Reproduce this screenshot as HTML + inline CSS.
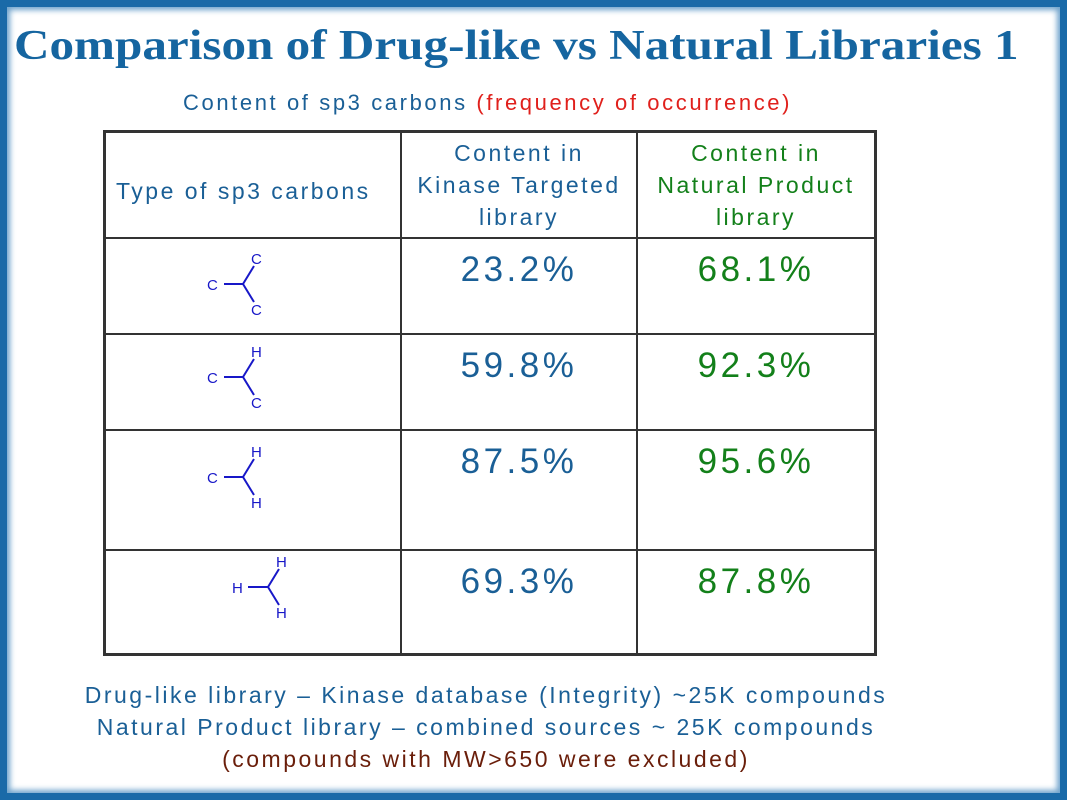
<!DOCTYPE html>
<html><head><meta charset="utf-8"><style>
html,body{margin:0;padding:0}
body{width:1067px;height:800px;position:relative;background:#fff;overflow:hidden;font-family:"Liberation Sans",sans-serif}
.frame{position:absolute;left:0;top:0;width:1067px;height:800px;box-sizing:border-box;border:7px solid #1a6aa8;box-shadow:inset 0 0 6px 3px #6fa3cc}
.t{position:absolute;white-space:nowrap}
h1{position:absolute;left:14px;top:22px;margin:0;font-family:"Liberation Serif",serif;font-weight:bold;font-size:42px;color:#1565a0;white-space:nowrap;transform:scaleX(1.17);transform-origin:0 0}
.ln{position:absolute;background:#333}
.c{text-align:center;position:absolute;letter-spacing:2.5px}
.pct{font-size:35px;letter-spacing:3.5px}
.b{color:#1a5f96}.g{color:#13801a}
</style></head><body>
<div class="frame"></div>
<h1>Comparison of Drug-like vs Natural Libraries 1</h1>
<div class="t" style="left:183px;top:90px;font-size:22px;color:#1a5f96;letter-spacing:2.6px">Content of sp3 carbons <span style="color:#e0201c">(frequency of occurrence)</span></div>
<div class="ln" style="left:104px;top:130px;width:773px;height:3px"></div>
<div class="ln" style="left:104px;top:653px;width:773px;height:3px"></div>
<div class="ln" style="left:103px;top:130px;width:3px;height:526px"></div>
<div class="ln" style="left:874px;top:130px;width:3px;height:526px"></div>
<div class="ln" style="left:400px;top:130px;width:2px;height:526px"></div>
<div class="ln" style="left:636px;top:130px;width:2px;height:526px"></div>
<div class="ln" style="left:104px;top:237px;width:773px;height:2px"></div>
<div class="ln" style="left:104px;top:333px;width:773px;height:2px"></div>
<div class="ln" style="left:104px;top:429px;width:773px;height:2px"></div>
<div class="ln" style="left:104px;top:549px;width:773px;height:2px"></div>
<div class="t b" style="left:116px;top:178px;font-size:23px;letter-spacing:2.5px">Type of sp3 carbons</div>
<div class="c b" style="left:402px;width:234px;top:137px;font-size:23px;line-height:32px">Content in<br>Kinase Targeted<br>library</div>
<div class="c g" style="left:638px;width:236px;top:137px;font-size:23px;line-height:32px">Content in<br>Natural Product<br>library</div>
<div class="c b pct" style="left:402px;width:234px;top:250px">23.2%</div>
<div class="c g pct" style="left:638px;width:236px;top:250px">68.1%</div>
<div class="c b pct" style="left:402px;width:234px;top:346px">59.8%</div>
<div class="c g pct" style="left:638px;width:236px;top:346px">92.3%</div>
<div class="c b pct" style="left:402px;width:234px;top:442px">87.5%</div>
<div class="c g pct" style="left:638px;width:236px;top:442px">95.6%</div>
<div class="c b pct" style="left:402px;width:234px;top:562px">69.3%</div>
<div class="c g pct" style="left:638px;width:236px;top:562px">87.8%</div>
<svg style="position:absolute;left:0;top:0" width="1067" height="800" font-family="Liberation Sans" font-size="15" fill="#1818c8">
<g stroke="#1818c8" stroke-width="2" fill="none">
<path d="M224 284H243L254 266M243 284L254 302"/>
<path d="M224 377H243L254 359M243 377L254 395"/>
<path d="M224 477H243L254 459M243 477L254 495"/>
<path d="M248 587H268L279 569M268 587L279 605"/>
</g>
<text x="207" y="290">C</text><text x="251" y="264">C</text><text x="251" y="315">C</text>
<text x="207" y="383">C</text><text x="251" y="357">H</text><text x="251" y="408">C</text>
<text x="207" y="483">C</text><text x="251" y="457">H</text><text x="251" y="508">H</text>
<text x="232" y="593">H</text><text x="276" y="567">H</text><text x="276" y="618">H</text>
</svg>
<div class="c b" style="left:0;width:972px;top:679px;font-size:23px;line-height:32px;letter-spacing:2.5px">Drug-like library – Kinase database (Integrity) ~25K compounds<br>Natural Product library – combined sources ~ 25K compounds<br><span style="color:#6a1e0a">(compounds with MW&gt;650 were excluded)</span></div>
</body></html>
